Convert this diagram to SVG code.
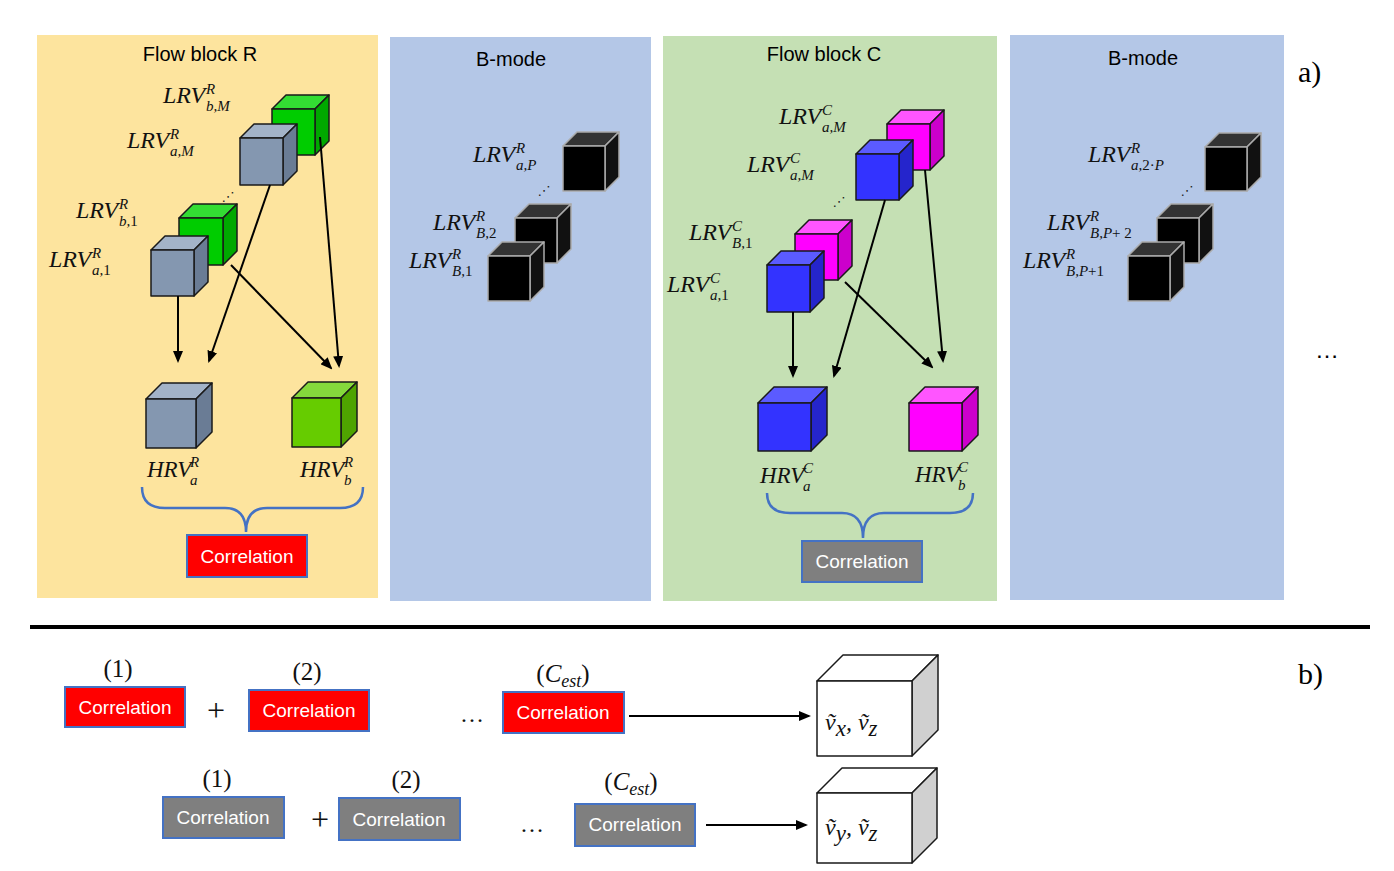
<svg xmlns="http://www.w3.org/2000/svg" width="1394" height="871" viewBox="0 0 1394 871">
<style>
.ttl{font-family:"Liberation Sans",Arial,sans-serif;font-size:20px;fill:#000;text-anchor:middle}
.m{font-family:"Liberation Serif","Times New Roman",serif;font-style:italic;font-size:24px;fill:#111}
.s{font-family:"Liberation Serif","Times New Roman",serif;font-style:italic;font-size:15px;fill:#111}
.up{font-style:normal}
.h{font-family:"Liberation Serif","Times New Roman",serif;font-style:italic;font-size:23px;fill:#111}
.cor{font-family:"Liberation Sans",Arial,sans-serif;font-size:19px;fill:#fff;text-anchor:middle}
.red{fill:#FF0000;stroke:#4472C4;stroke-width:2}
.gry{fill:#7F7F7F;stroke:#4472C4;stroke-width:2}
.num{font-family:"Liberation Serif","Times New Roman",serif;font-size:25px;fill:#111;text-anchor:middle}
.plus{font-family:"Liberation Serif","Times New Roman",serif;font-size:32px;fill:#111;text-anchor:middle}
.ell{font-family:"Liberation Serif","Times New Roman",serif;font-size:24px;fill:#111;text-anchor:middle}
.dots{font-family:"DejaVu Sans",sans-serif;font-size:13px;fill:#222;text-anchor:middle}
.cube{stroke:#1a1a1a;stroke-width:1.5;stroke-linejoin:round}
.bk{stroke:#aaaaaa;stroke-width:1.5;stroke-linejoin:round}
.conn line{stroke:#000;stroke-width:2;marker-end:url(#ah)}
.brace{fill:none;stroke:#4472C4;stroke-width:2.5}
</style>
<defs>
<marker id="ah" viewBox="0 0 12 10" refX="10" refY="5" markerWidth="12" markerHeight="10" markerUnits="userSpaceOnUse" orient="auto">
<path d="M0,0 L12,5 L0,10 z" fill="#000"/>
</marker>
</defs>
<rect width="1394" height="871" fill="#fff"/>

<!-- panels -->
<g id="panel-flowR"><rect x="37" y="35" width="341" height="563" fill="#FDE49E"/><text class="ttl" x="200" y="61">Flow block R</text></g>
<g id="panel-bmode1"><rect x="390" y="37" width="261" height="564" fill="#B4C7E7"/><text class="ttl" x="511" y="66">B-mode</text></g>
<g id="panel-flowC"><rect x="663" y="36" width="334" height="565" fill="#C5E0B4"/><text class="ttl" x="824" y="61">Flow block C</text></g>
<g id="panel-bmode2"><rect x="1010" y="35" width="274" height="565" fill="#B4C7E7"/><text class="ttl" x="1143" y="65">B-mode</text></g>

<text x="1298" y="82" font-family="Liberation Serif,serif" font-size="30" fill="#000">a)</text>
<text x="1298" y="684" font-family="Liberation Serif,serif" font-size="30" fill="#000">b)</text>
<text x="1327" y="358" font-family="Liberation Sans,sans-serif" font-size="24" fill="#000" text-anchor="middle">…</text>

<!-- Flow block R cubes -->
<g id="R-LRVbM">
<polygon class="cube" fill="#33DD33" points="272,109 286,95 329,95 315,109"/>
<polygon class="cube" fill="#00A800" points="315,109 329,95 329,141 315,155"/>
<rect class="cube" fill="#00CC00" x="272" y="109" width="43" height="46"/>
<text class="m" x="163" y="103">LRV</text><text class="s" x="206" y="94">R</text><text class="s" x="206" y="111">b,M</text>
</g>
<g id="R-LRVaM">
<polygon class="cube" fill="#A3B3C8" points="240,138 254,124 297,124 283,138"/>
<polygon class="cube" fill="#6A7C95" points="283,138 297,124 297,171 283,185"/>
<rect class="cube" fill="#8497B0" x="240" y="138" width="43" height="47"/>
<text class="m" x="127" y="148">LRV</text><text class="s" x="170" y="139">R</text><text class="s" x="170" y="156">a,M</text>
</g>
<text class="dots" x="228" y="201">⋰</text>
<g id="R-LRVb1">
<polygon class="cube" fill="#33DD33" points="179,218 193,204 237,204 223,218"/>
<polygon class="cube" fill="#00A800" points="223,218 237,204 237,251 223,265"/>
<rect class="cube" fill="#00CC00" x="179" y="218" width="44" height="47"/>
<text class="m" x="76" y="218">LRV</text><text class="s" x="119" y="209">R</text><text class="s" x="119" y="226">b,<tspan class="up">1</tspan></text>
</g>
<g id="R-LRVa1">
<polygon class="cube" fill="#A3B3C8" points="151,250 165,236 208,236 194,250"/>
<polygon class="cube" fill="#6A7C95" points="194,250 208,236 208,282 194,296"/>
<rect class="cube" fill="#8497B0" x="151" y="250" width="43" height="46"/>
<text class="m" x="49" y="267">LRV</text><text class="s" x="92" y="258">R</text><text class="s" x="92" y="275">a,<tspan class="up">1</tspan></text>
</g>
<g id="R-HRVa">
<polygon class="cube" fill="#A3B3C8" points="146,399 162,383 212,383 196,399"/>
<polygon class="cube" fill="#6A7C95" points="196,399 212,383 212,432 196,448"/>
<rect class="cube" fill="#8497B0" x="146" y="399" width="50" height="49"/>
<text class="h" x="147" y="477">HRV</text><text class="s" x="190" y="467">R</text><text class="s" x="190" y="485">a</text>
</g>
<g id="R-HRVb">
<polygon class="cube" fill="#85D93C" points="292,398 308,382 357,382 341,398"/>
<polygon class="cube" fill="#4FA300" points="341,398 357,382 357,431 341,447"/>
<rect class="cube" fill="#66CC00" x="292" y="398" width="49" height="49"/>
<text class="h" x="300" y="477">HRV</text><text class="s" x="344" y="467">R</text><text class="s" x="344" y="485">b</text>
</g>
<path class="brace" d="M142,487 Q142,508 165,508 L225,508 Q246,508 246,532 Q246,508 267,508 L340,508 Q363,508 363,487"/>
<g id="R-corr"><rect class="red" x="187" y="535" width="120" height="42"/><text class="cor" x="247" y="563">Correlation</text></g>

<!-- B-mode 1 -->
<g id="B1-aP">
<polygon class="bk" fill="#333" points="563,146 577,132 619,132 605,146"/>
<polygon class="bk" fill="#111" points="605,146 619,132 619,177 605,191"/>
<rect class="bk" fill="#000" x="563" y="146" width="42" height="45"/>
<text class="m" x="473" y="162">LRV</text><text class="s" x="516" y="153">R</text><text class="s" x="516" y="170">a,P</text>
</g>
<text class="dots" x="544" y="195">⋰</text>
<g id="B1-B2">
<polygon class="bk" fill="#333" points="515,218 529,204 571,204 557,218"/>
<polygon class="bk" fill="#111" points="557,218 571,204 571,249 557,263"/>
<rect class="bk" fill="#000" x="515" y="218" width="42" height="45"/>
<text class="m" x="433" y="230">LRV</text><text class="s" x="476" y="221">R</text><text class="s" x="476" y="238">B,<tspan class="up">2</tspan></text>
</g>
<g id="B1-B1">
<polygon class="bk" fill="#333" points="488,256 502,242 544,242 530,256"/>
<polygon class="bk" fill="#111" points="530,256 544,242 544,287 530,301"/>
<rect class="bk" fill="#000" x="488" y="256" width="42" height="45"/>
<text class="m" x="409" y="268">LRV</text><text class="s" x="452" y="259">R</text><text class="s" x="452" y="276">B,<tspan class="up">1</tspan></text>
</g>

<!-- Flow block C -->
<g id="C-LRVbM">
<polygon class="cube" fill="#FF55FF" points="887,124 901,110 944,110 930,124"/>
<polygon class="cube" fill="#CC00CC" points="930,124 944,110 944,156 930,170"/>
<rect class="cube" fill="#FF00FF" x="887" y="124" width="43" height="46"/>
<text class="m" x="779" y="124">LRV</text><text class="s" x="822" y="115">C</text><text class="s" x="822" y="132">a,M</text>
</g>
<g id="C-LRVaM">
<polygon class="cube" fill="#5B5BFF" points="856,154 870,140 913,140 899,154"/>
<polygon class="cube" fill="#2525CC" points="899,154 913,140 913,186 899,200"/>
<rect class="cube" fill="#3333FF" x="856" y="154" width="43" height="46"/>
<text class="m" x="747" y="172">LRV</text><text class="s" x="790" y="163">C</text><text class="s" x="790" y="180">a,M</text>
</g>
<text class="dots" x="839" y="206">⋰</text>
<g id="C-LRVB1">
<polygon class="cube" fill="#FF55FF" points="795,234 809,220 852,220 838,234"/>
<polygon class="cube" fill="#CC00CC" points="838,234 852,220 852,266 838,280"/>
<rect class="cube" fill="#FF00FF" x="795" y="234" width="43" height="46"/>
<text class="m" x="689" y="240">LRV</text><text class="s" x="732" y="231">C</text><text class="s" x="732" y="248">B,<tspan class="up">1</tspan></text>
</g>
<g id="C-LRVa1">
<polygon class="cube" fill="#5B5BFF" points="767,265 781,251 824,251 810,265"/>
<polygon class="cube" fill="#2525CC" points="810,265 824,251 824,298 810,312"/>
<rect class="cube" fill="#3333FF" x="767" y="265" width="43" height="47"/>
<text class="m" x="667" y="292">LRV</text><text class="s" x="710" y="283">C</text><text class="s" x="710" y="300">a,<tspan class="up">1</tspan></text>
</g>
<g id="C-HRVa">
<polygon class="cube" fill="#5B5BFF" points="758,403 774,387 827,387 811,403"/>
<polygon class="cube" fill="#2525CC" points="811,403 827,387 827,435 811,451"/>
<rect class="cube" fill="#3333FF" x="758" y="403" width="53" height="48"/>
<text class="h" x="760" y="483">HRV</text><text class="s" x="803" y="473">C</text><text class="s" x="803" y="491">a</text>
</g>
<g id="C-HRVb">
<polygon class="cube" fill="#FF55FF" points="909,403 925,387 978,387 962,403"/>
<polygon class="cube" fill="#CC00CC" points="962,403 978,387 978,435 962,451"/>
<rect class="cube" fill="#FF00FF" x="909" y="403" width="53" height="48"/>
<text class="h" x="915" y="482">HRV</text><text class="s" x="958" y="472">C</text><text class="s" x="958" y="490">b</text>
</g>
<path class="brace" d="M767,493 Q767,513 790,513 L842,513 Q863,513 863,538 Q863,513 884,513 L950,513 Q973,513 973,493"/>
<g id="C-corr"><rect class="gry" x="802" y="541" width="120" height="41"/><text class="cor" x="862" y="568">Correlation</text></g>

<!-- B-mode 2 -->
<g id="B2-a2P">
<polygon class="bk" fill="#333" points="1205,147 1219,133 1261,133 1247,147"/>
<polygon class="bk" fill="#111" points="1247,147 1261,133 1261,177 1247,191"/>
<rect class="bk" fill="#000" x="1205" y="147" width="42" height="44"/>
<text class="m" x="1088" y="162">LRV</text><text class="s" x="1131" y="153">R</text><text class="s" x="1131" y="170">a,<tspan class="up">2·</tspan>P</text>
</g>
<text class="dots" x="1187" y="195">⋰</text>
<g id="B2-BP2">
<polygon class="bk" fill="#333" points="1157,218 1171,204 1213,204 1199,218"/>
<polygon class="bk" fill="#111" points="1199,218 1213,204 1213,249 1199,263"/>
<rect class="bk" fill="#000" x="1157" y="218" width="42" height="45"/>
<text class="m" x="1047" y="230">LRV</text><text class="s" x="1090" y="221">R</text><text class="s" x="1090" y="238">B,P<tspan class="up">+ 2</tspan></text>
</g>
<g id="B2-BP1">
<polygon class="bk" fill="#333" points="1128,256 1142,242 1184,242 1170,256"/>
<polygon class="bk" fill="#111" points="1170,256 1184,242 1184,287 1170,301"/>
<rect class="bk" fill="#000" x="1128" y="256" width="42" height="45"/>
<text class="m" x="1023" y="268">LRV</text><text class="s" x="1066" y="259">R</text><text class="s" x="1066" y="276">B,P<tspan class="up">+1</tspan></text>
</g>

<!-- divider -->
<line x1="30" y1="627" x2="1370" y2="627" stroke="#000" stroke-width="4"/>

<!-- section b -->
<g id="b-r1"><text class="num" x="118" y="677">(1)</text><rect class="red" x="65" y="687" width="120" height="40"/><text class="cor" x="125" y="714">Correlation</text></g>
<text class="plus" x="216" y="721">+</text>
<g id="b-r2"><text class="num" x="307" y="680">(2)</text><rect class="red" x="249" y="690" width="120" height="41"/><text class="cor" x="309" y="717">Correlation</text></g>
<text class="ell" x="472" y="722">…</text>
<g id="b-r3"><text class="num" x="563" y="682">(<tspan font-style="italic">C</tspan><tspan font-size="18" font-style="italic" dy="5">est</tspan><tspan dy="-5">)</tspan></text><rect class="red" x="503" y="692" width="121" height="41"/><text class="cor" x="563" y="719">Correlation</text></g>

<g id="b-g1"><text class="num" x="217" y="787">(1)</text><rect class="gry" x="163" y="797" width="121" height="41"/><text class="cor" x="223" y="824">Correlation</text></g>
<text class="plus" x="320" y="830">+</text>
<g id="b-g2"><text class="num" x="406" y="788">(2)</text><rect class="gry" x="339" y="798" width="121" height="42"/><text class="cor" x="399" y="826">Correlation</text></g>
<text class="ell" x="532" y="832">…</text>
<g id="b-g3"><text class="num" x="631" y="790">(<tspan font-style="italic">C</tspan><tspan font-size="18" font-style="italic" dy="5">est</tspan><tspan dy="-5">)</tspan></text><rect class="gry" x="575" y="804" width="120" height="42"/><text class="cor" x="635" y="831">Correlation</text></g>

<g id="out-xz">
<polygon class="cube" fill="#fff" points="817,681 843,655 938,655 912,681"/>
<polygon class="cube" fill="#D0D0D0" points="912,681 938,655 938,730 912,756"/>
<rect class="cube" fill="#fff" x="817" y="681" width="95" height="75"/>
<text class="m" x="825" y="730" font-size="33">ṽ<tspan font-size="23" dy="6">x</tspan><tspan dy="-6">, ṽ</tspan><tspan font-size="23" dy="6">z</tspan></text>
</g>
<g id="out-yz">
<polygon class="cube" fill="#fff" points="817,793 842,768 937,768 912,793"/>
<polygon class="cube" fill="#D0D0D0" points="912,793 937,768 937,838 912,863"/>
<rect class="cube" fill="#fff" x="817" y="793" width="95" height="70"/>
<text class="m" x="825" y="835" font-size="33">ṽ<tspan font-size="23" dy="6">y</tspan><tspan dy="-6">, ṽ</tspan><tspan font-size="23" dy="6">z</tspan></text>
</g>

<!-- connectors -->
<g id="connectors" class="conn">
<line x1="178" y1="296" x2="178" y2="361"/>
<line x1="270" y1="185" x2="209" y2="361"/>
<line x1="231" y1="265" x2="331" y2="368"/>
<line x1="320" y1="137" x2="339" y2="366"/>
<line x1="793" y1="312" x2="793" y2="376"/>
<line x1="885" y1="200" x2="834" y2="376"/>
<line x1="845" y1="282" x2="932" y2="367"/>
<line x1="925" y1="170" x2="943" y2="361"/>
<line x1="629" y1="716" x2="809" y2="716"/>
<line x1="706" y1="825" x2="806" y2="825"/>
</g>
</svg>
